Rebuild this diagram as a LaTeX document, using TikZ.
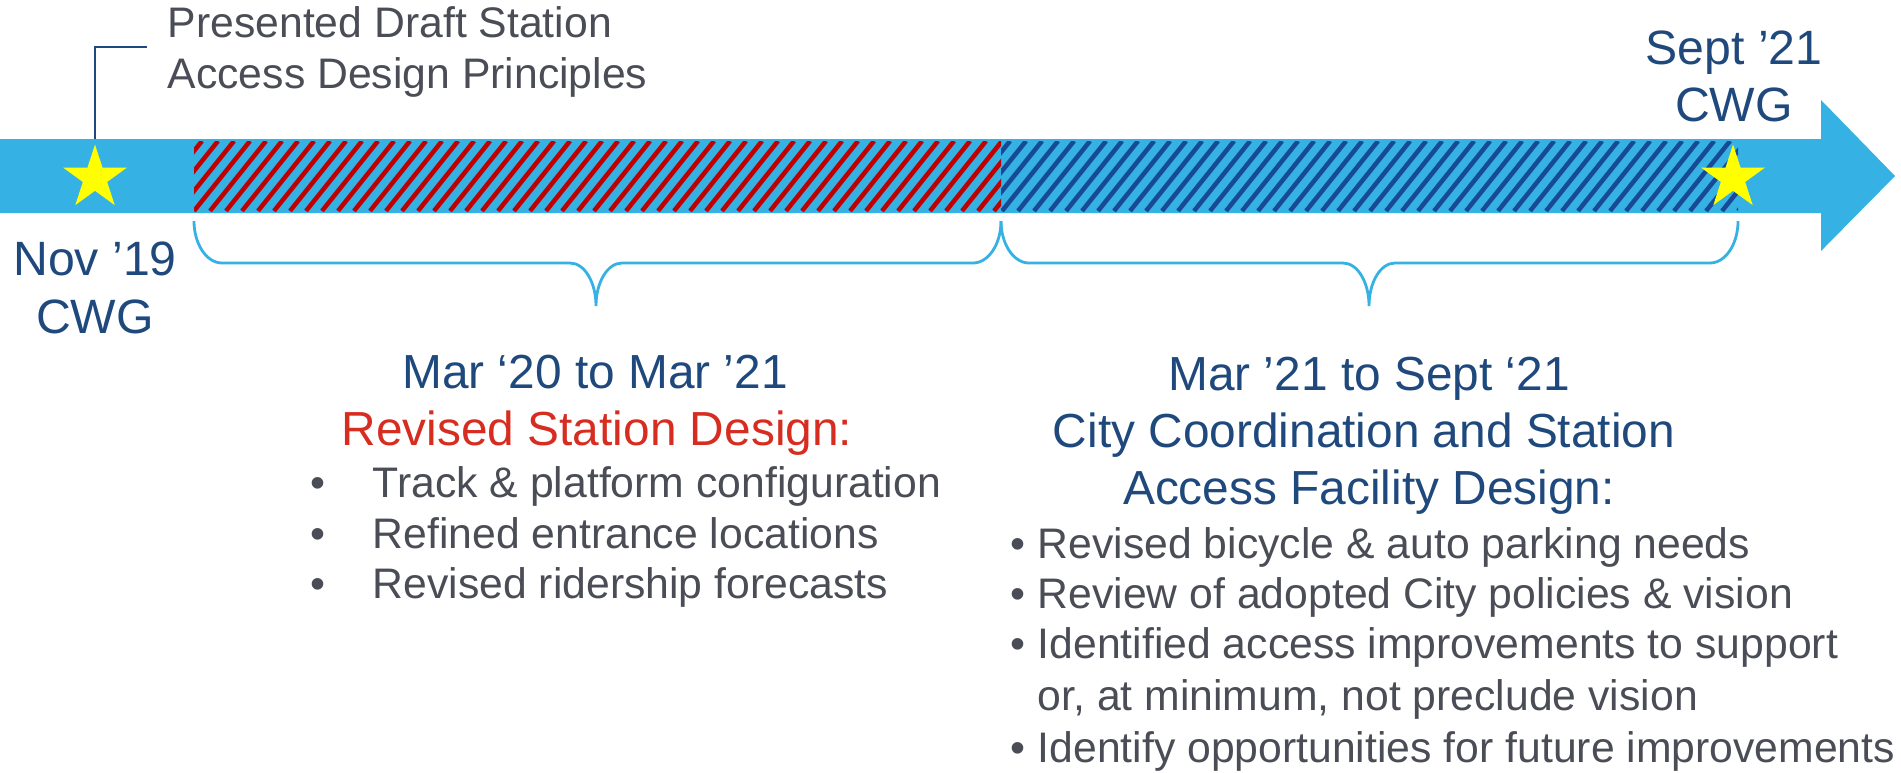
\documentclass[tikz,border=0pt]{standalone}
\usepackage{fontspec}
\setmainfont{Liberation Sans}
\usetikzlibrary{shapes.geometric}
\definecolor{barblue}{RGB}{53,177,228}
\definecolor{hatchred}{RGB}{192,0,0}
\definecolor{hatchblue}{HTML}{174A94}
\definecolor{cwgblue}{HTML}{1F497D}
\definecolor{itemgray}{HTML}{4A4D56}
\definecolor{phasered}{HTML}{D62D20}
\definecolor{staryellow}{RGB}{255,255,0}
% curly brace under a phase: left end, tip, right end (x in px)
\newcommand\spanbrace[3]{%
  \draw[spanline] (#1,221) .. controls (#1,244) and (#1+12.5,263) .. (#1+28,263)
    -- (#2-26,263) .. controls (#2-11.6,263) and (#2,282) .. (#2,306)
    .. controls (#2,282) and (#2+11.6,263) .. (#2+26,263)
    -- (#3-28,263) .. controls (#3-12.5,263) and (#3,244) .. (#3,221);}

\begin{document}
\begin{tikzpicture}[x=0.01cm,y=-0.01cm,
    spanline/.style={draw=barblue,line width=0.028cm},
    hatchline/.style={line width=0.045cm},
    callout/.style={draw=cwgblue,line width=0.022cm},
    cwgstar/.style={star,star points=5,star point ratio=2.618,fill=staryellow,
      draw=none,inner sep=0pt,minimum size=0.67cm},
    datelabel/.style={font=\fontsize{13.7}{16}\selectfont,text=cwgblue,anchor=base,inner sep=0pt},
    phasehead/.style={font=\fontsize{13.6}{16}\selectfont,text=cwgblue,anchor=base,inner sep=0pt},
    phasetitle/.style={phasehead,text=phasered},
    itemtext/.style={font=\fontsize{12.15}{14}\selectfont,text=itemgray,anchor=base west,inner sep=0pt},
    itemdot/.style={itemtext,anchor=base}]
  \useasboundingbox (0,0) rectangle (1901,772);

  % timeline arrow
  \fill[barblue] (0,139) -- (1821,139) -- (1821,100) -- (1895,176)
    -- (1821,251) -- (1821,213) -- (0,213) -- cycle;
  \begin{scope}
    \clip (194,141) rectangle (1001,211);
    \foreach \x in {130,146,...,1010}
      \draw[hatchred,hatchline] (\x,211) -- ++(56,-70);
  \end{scope}
  \begin{scope}
    \clip (1001,141) rectangle (1738,211);
    \foreach \x in {938,954,...,1746}
      \draw[hatchblue,hatchline] (\x,211) -- ++(56,-70);
  \end{scope}

  % milestones
  \node[cwgstar] (nov star) at (95,178) {};
  \node[cwgstar] (sept star) at (1733,178) {};
  \coordinate (nov top) at (95,139);
  \coordinate (note end) at (147,47);
  \draw[callout] (nov top) |- (note end);
  \node[itemtext] (note1) at (167,37) {Presented Draft Station};
  \node[itemtext] (note2) at (167,88) {Access Design Principles};

  \node[datelabel] (nov date) at (95,275) {Nov ’19};
  \node[datelabel] (nov cwg) at (95,333) {CWG};
  \node[datelabel] (sept date) at (1734,64) {Sept ’21};
  \node[datelabel] (sept cwg) at (1734,121) {CWG};

  % phase braces
  \spanbrace{194}{596}{1001}
  \spanbrace{1001}{1369}{1738}

  % first phase
  \node[phasehead] (p1 dates) at (595,388) {Mar ‘20 to Mar ’21};
  \node[phasetitle] (p1 title) at (597,445) {Revised Station Design:};
  \foreach \y/\txt [count=\i] in {497/Track \& platform configuration,
      548/Refined entrance locations,598/Revised ridership forecasts}{
    \node[itemdot] (p1 dot\i) at (318,\y) {•};
    \node[itemtext] (p1 item\i) at (372,\y) {\txt};
  }

  % second phase
  \node[phasehead] (p2 dates) at (1369,390) {Mar ’21 to Sept ‘21};
  \node[phasehead] (p2 title1) at (1364,447) {City Coordination and Station};
  \node[phasehead] (p2 title2) at (1369,504) {Access Facility Design:};
  \foreach \y/\txt [count=\i] in {558/Revised bicycle \& auto parking needs,
      608/Review of adopted City policies \& vision,
      658/Identified access improvements to support,
      762/Identify opportunities for future improvements}{
    \node[itemdot] (p2 dot\i) at (1018,\y) {•};
    \node[itemtext] (p2 item\i) at (1037,\y) {\txt};
  }
  \node[itemtext] (p2 item3b) at (1037,710) {or, at minimum, not preclude vision};
\end{tikzpicture}
\end{document}
